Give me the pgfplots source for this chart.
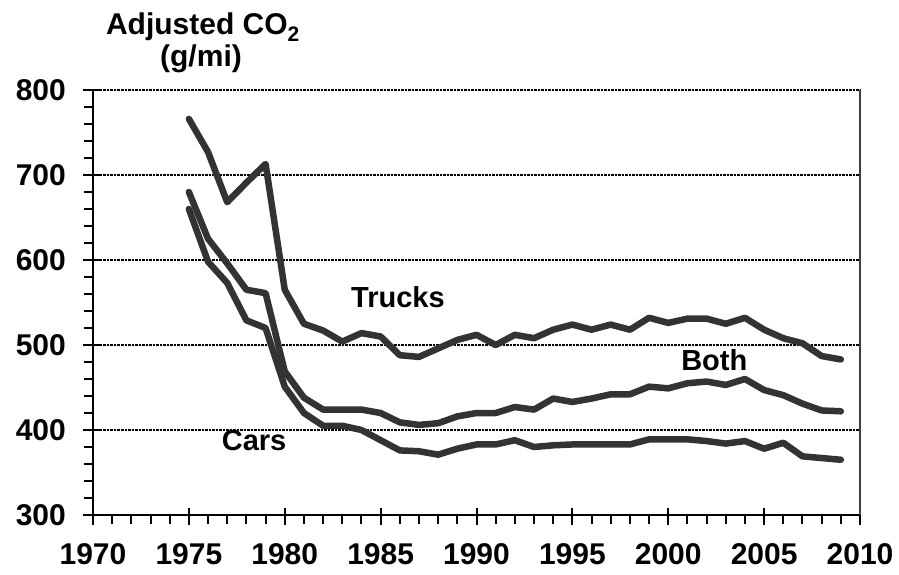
\documentclass[border=0pt]{standalone}
\usepackage{pgfplots}
\pgfplotsset{compat=1.18}
\usepackage{fontspec}
\setmainfont{Liberation Sans}

\definecolor{linegray}{HTML}{333333}
\definecolor{boxgray}{HTML}{404040}

\pgfplotstableread{
year trucks both cars
1975 766 680 660
1976 727 625 598
1977 668 596 573
1978 691 565 529
1979 713 561 520
1980 565 469 451
1981 525 438 420
1982 517 424 405
1983 504 424 405
1984 514 424 400
1985 510 420 388
1986 488 409 376
1987 486 406 375
1988 496 408 371
1989 506 416 378
1990 512 420 383
1991 500 420 383
1992 512 427 388
1993 508 424 380
1994 518 437 382
1995 524 433 383
1996 518 437 383
1997 524 442 383
1998 518 442 383
1999 532 451 389
2000 526 449 389
2001 531 455 389
2002 531 457 387
2003 525 453 384
2004 532 460 387
2005 518 447 378
2006 508 441 385
2007 502 431 369
2008 487 423 367
2009 483 422 365
}\co

\begin{document}
\begin{tikzpicture}
\useasboundingbox (-93pt,-59pt) rectangle (806pt,515pt);
\begin{axis}[
  at={(0pt,0pt)}, anchor=south west,
  scale only axis, width=767pt, height=425pt,
  xmin=1970, xmax=2010, ymin=300, ymax=800,
  xtick={1970,1975,...,2010}, ytick={300,400,...,800},
  minor x tick num=4, minor y tick num=4,
  axis lines=left,
  axis line style={-, line width=2.5pt, black},
  tick align=outside,
  major tick length=17pt, minor tick length=9pt,
  every tick/.style={black, line width=2pt},
  major x tick style={yshift=7pt},
  major y tick style={xshift=7pt},
  ymajorgrids,
  grid style={black, line width=1.8pt, dash pattern=on 2.5pt off 1pt},
  /pgf/number format/1000 sep={},
  /pgf/number format/assume math mode=true,
  tick label style={font=\fontsize{30}{33}\selectfont\bfseries, inner sep=0pt},
  xticklabel style={yshift=-11pt},
  yticklabel style={xshift=-10pt},
  clip=false,
]
\addplot[linegray, line width=6.5pt, line join=round, line cap=round] table[x=year, y=trucks] {\co};
\addplot[linegray, line width=6.5pt, line join=round, line cap=round] table[x=year, y=both] {\co};
\addplot[linegray, line width=6.5pt, line join=round, line cap=round] table[x=year, y=cars] {\co};
\draw[boxgray, line width=2pt] (rel axis cs:1,0) -- (rel axis cs:1,1);
\node[font=\fontsize{29}{32}\selectfont\bfseries] at (axis cs:1985.9,556) {Trucks};
\node[font=\fontsize{29}{32}\selectfont\bfseries] at (axis cs:2002.4,482) {Both};
\node[font=\fontsize{29}{32}\selectfont\bfseries] at (axis cs:1978.4,388) {Cars};
\end{axis}
\node[font=\fontsize{30}{33}\selectfont\bfseries, anchor=base] at (110pt,480pt) {Adjusted CO\textsubscript{2}};
\node[font=\fontsize{30}{33}\selectfont\bfseries, anchor=base] at (108pt,448pt) {(g/mi)};
\end{tikzpicture}
\end{document}
